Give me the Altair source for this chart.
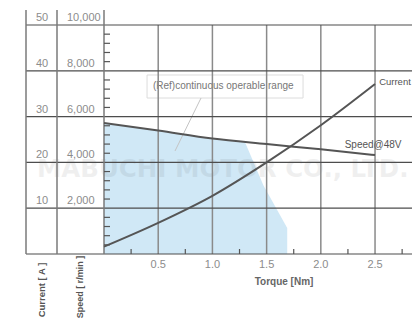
import altair as alt
import pandas as pd

# ---- data ----
torque = [0.0, 0.5, 1.0, 1.5, 2.0, 2.5]
speed = [5720, 5390, 5040, 4800, 4570, 4320]
current = [1.6, 6.8, 12.7, 20.0, 28.1, 37.1]

range_torque = [0.0, 0.5, 1.0, 1.3, 1.47, 1.69]
range_speed = [5720, 5390, 5040, 4890, 3000, 1130]

speed_lines = [0, 2000, 4000, 6000, 8000, 10000]
speed_labels = [2000, 4000, 6000, 8000, 10000]
current_labels = [10, 20, 30, 40, 50]
torque_labels = [0.5, 1.0, 1.5, 2.0, 2.5]
torque_minor = [0.25, 0.75, 1.25, 1.75, 2.25, 2.75]
speed_minor = [400 * i for i in range(1, 25) if i % 5]

FONT = "Liberation Sans"
NARROW = "Liberation Sans Narrow, Liberation Sans"
W, H = 308, 229
LABEL_GRAY = "#8c8c8c"
DARK = "#555555"

xs = alt.Scale(domain=[0, 2.841], nice=False, zero=False)
ys = alt.Scale(domain=[0, 10000], nice=False, zero=False)
cs = alt.Scale(domain=[0, 50], nice=False, zero=False)

one = pd.DataFrame({"a": [0]})
df_curve = pd.DataFrame({"torque": torque, "speed": speed, "current": current})
df_range = pd.DataFrame({"torque": range_torque, "speed": range_speed})


def X(field="torque:Q", **kw):
    return alt.X(field, scale=xs, axis=None, **kw)


def Y(field="speed:Q", **kw):
    return alt.Y(field, scale=ys, axis=None, **kw)


def XD(v):
    return alt.X(datum=v, scale=xs, axis=None)


def YD(v, scale=ys):
    return alt.Y(datum=v, scale=scale, axis=None)


area = alt.Chart(df_range).mark_area(color="#d0e8f6", interpolate="linear").encode(
    x=X(), y=Y(), y2=alt.datum(0))

watermark = alt.Chart(one).mark_text(
    text="MABUCHI MOTOR CO., LTD.", font="DejaVu Sans", fontWeight="bold",
    fontSize=24.5, color="#000000", opacity=0.06, baseline="middle", align="center"
).encode(x=XD(1.095), y=YD(3650))

box = alt.Chart(one).mark_rect(fill="white", stroke="#dcdcdc", strokeWidth=1).encode(
    x=XD(0.397), x2=alt.datum(1.836), y=YD(7817), y2=alt.datum(6812))

box_text = alt.Chart(one).mark_text(
    text="(Ref)continuous operable range", font=FONT, fontSize=10, color="#777777",
    align="center", baseline="middle"
).encode(x=XD(1.10), y=YD(7330))

leader = alt.Chart(one).mark_rule(color="#c4c4c4", strokeWidth=1).encode(
    x=XD(0.895), x2=alt.datum(0.655), y=YD(6812), y2=alt.datum(4498))

vgrid = alt.Chart(pd.DataFrame({"torque": torque_labels})).mark_rule(
    color="#8a8a8a", strokeWidth=1.5
).encode(x=X(), y=YD(0), y2=alt.datum(10000))

hgrid = alt.Chart(pd.DataFrame({"speed": speed_lines})).mark_rule(
    color="#4d4d4d", strokeWidth=1.2
).encode(y=Y(), x=alt.value(-78), x2=alt.value(W))

columns = [
    alt.Chart(one).mark_rule(color="#7a7a7a", strokeWidth=1.5).encode(
        x=alt.value(px), y=alt.value(-15), y2=alt.value(H))
    for px in (-78, -47, 0)
]

xminor = alt.Chart(pd.DataFrame({"torque": torque_minor})).mark_rule(
    color=DARK, strokeWidth=1.2).encode(x=X(), y=alt.value(H), y2=alt.value(H - 5))

yminor = alt.Chart(pd.DataFrame({"speed": speed_minor})).mark_rule(
    color=DARK, strokeWidth=1.2).encode(y=Y(), x=alt.value(0), x2=alt.value(6))

# axis labels (tick labels from the arrays, placed through the scales)
x_tick_text = alt.Chart(pd.DataFrame({"torque": torque_labels})).mark_text(
    font=FONT, fontSize=11, color=LABEL_GRAY, align="center", baseline="top", dy=5
).encode(x=X(), y=alt.value(H), text=alt.Text("torque:Q", format=".1f"))

speed_tick_text = alt.Chart(pd.DataFrame({"speed": speed_labels})).mark_text(
    font=NARROW, fontSize=11, color=LABEL_GRAY, align="left", baseline="alphabetic", dy=-4
).encode(y=Y(), x=alt.value(-37), text=alt.Text("speed:Q", format=","))

x_title = alt.Chart(one).mark_text(
    text="Torque [Nm]", font=FONT, fontSize=10, fontWeight="bold", color="#666666",
    align="center", baseline="middle"
).encode(x=alt.value(180), y=alt.value(H + 28))

speed_title = alt.Chart(one).mark_text(
    text="Speed [ r/min ]", font=FONT, fontSize=9, fontWeight="bold", color=DARK,
    align="center", baseline="middle", angle=270
).encode(x=alt.value(-24), y=alt.value(H + 33))

current_title = alt.Chart(one).mark_text(
    text="Current [ A ]", font=FONT, fontSize=9.5, fontWeight="bold", color=DARK,
    align="center", baseline="middle", angle=270
).encode(x=alt.value(-62), y=alt.value(H + 36))

speed_line = alt.Chart(df_curve).mark_line(
    color=DARK, strokeWidth=2, interpolate="monotone").encode(x=X(), y=Y())

speed_label = alt.Chart(one).mark_text(
    text="Speed@48V", font=FONT, fontSize=10, color=DARK, align="left",
    baseline="middle").encode(x=XD(2.22), y=YD(4760))

speed_group = alt.layer(area, watermark, box, box_text, leader, vgrid, hgrid,
                        *columns, xminor, yminor, x_tick_text, speed_tick_text,
                        x_title, speed_title, current_title, speed_line, speed_label)

current_line = alt.Chart(df_curve).mark_line(
    color=DARK, strokeWidth=2, interpolate="monotone").encode(
    x=X(), y=alt.Y("current:Q", scale=cs, axis=None))

current_tick_text = alt.Chart(pd.DataFrame({"current": current_labels})).mark_text(
    font=NARROW, fontSize=11, color=LABEL_GRAY, align="left", baseline="alphabetic", dy=-4
).encode(y=alt.Y("current:Q", scale=cs, axis=None), x=alt.value(-68), text="current:Q")

current_label = alt.Chart(one).mark_text(
    text="Current", font=FONT, fontSize=9.5, color=DARK, align="left",
    baseline="middle").encode(x=XD(2.538), y=YD(37.6, cs))

current_group = alt.layer(current_line, current_tick_text, current_label)

chart = alt.layer(speed_group, current_group).resolve_scale(y="independent").properties(
    width=W, height=H,
    autosize=alt.AutoSizeParams(type="none"),
    padding={"left": 96, "top": 17, "right": 0, "bottom": 65},
).configure_view(stroke=None)

chart.save("out.html", embed_options={"renderer": "svg", "actions": False})
